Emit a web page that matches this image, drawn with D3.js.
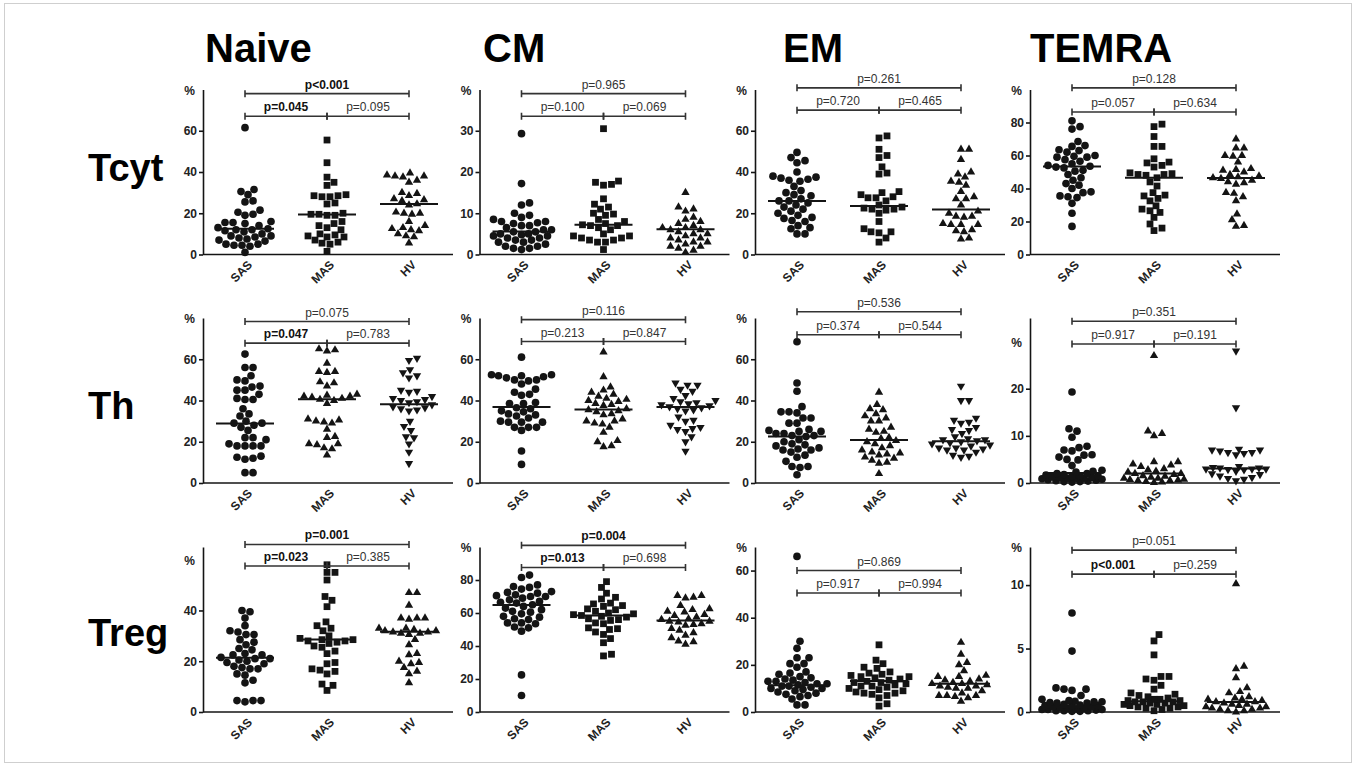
<!DOCTYPE html>
<html>
<head>
<meta charset="utf-8">
<script src="https://cdn.jsdelivr.net/npm/d3@7"></script>
<style>
body { margin: 0; background: #fff; }
svg { display: block; font-family: "Liberation Sans", Arial, sans-serif; }
</style>
</head>
<body>
<svg id="fig" width="1357" height="769"></svg>
<script>
const groups = ["SAS", "MAS", "HV"];
const columns = ["Naive", "CM", "EM", "TEMRA"];
const rows = ["Tcyt", "Th", "Treg"];

// each panel: [SAS, MAS, HV] values in %
const tcytNaive = [
  [61.5,31.5,30.5,29,26,25.5,21.5,20.5,19.5,19,16,15.5,15.5,15,14,13,12.5,12,12,11.5,11,10,9,9,8.5,8,7.5,7,6.5,5,5,4.5,4.5,4,1],
  [55.5,44.5,37.5,35,33.5,29,28.5,28.5,28,28,25,24.5,20,19.5,19.5,19,19,16,15,14,13,12,10,9.5,9,8.5,8.5,7,6,5.5,5,1.5],
  [39.5,38.5,38,38,37.5,36,35,30,29.5,28.5,27,26.5,26,24.5,24,20.5,20,20,19.5,16,14,13,12.5,12,11.5,10,9,8.5,5.5]
];
const tcytCM = [
  [29.3,17.2,12.5,12,10,9.5,9,8.5,8,8,7.7,7.5,7,7,6.5,6,6,5.5,5.5,5,5,4.8,4.5,4.5,4,4,3.5,3.5,3,3,2.5,2,2,1.5,1.5,1.2],
  [30.5,17.8,17.5,17,16.8,13.5,12.2,11.5,11,10,9.8,9.5,8.5,8,7.5,7.2,7,7,6.5,6,5,4.5,4.5,4,4,3.5,3.5,3,3,1.2],
  [15,11.5,11,10.5,9,8.5,8,7.5,7,6.5,6.5,6,6,5.5,5,5,4.5,4,4,3.5,3,3,2.5,2,2,1.5,1,0.5]
];
const tcytEM = [
  [49.5,47,45.5,44.5,40,38,37.5,37,36.5,36,35.5,33,31,30,29,28.5,27,26,26,25,24,23,22,21,20,19,18,17.5,16.5,16,14,13,12.5,10,10],
  [57.5,56.5,51,48,47,42.5,39.5,39,30.5,30,29,28,27.5,27.5,26,24,23,22.5,22,22,21.5,20,16,12.5,11,11,10.5,8,6],
  [51,51,46,40,39,37.5,35.5,35,33.5,30.5,28,27,27,24,21,20,18.5,18.5,18,15,14.5,14.5,14.5,12,11.5,11,8,7.5]
];
const tcytTEMRA = [
  [81,77.5,76,68.5,66,65.5,63.5,63,62,60,59.5,59,59,57.5,56.5,55,54,53.5,53,52.5,51,50.5,48.5,46.5,45,43,42,40,38,37.5,35.5,35,34.5,31,25,17],
  [79,77.5,71.5,65.5,65.5,58,56,55.5,54,53,49.5,49,48.5,48.5,48,46.5,44,41.5,37.5,36,35.5,34,32.5,29.5,27.5,26.5,25.5,22.5,18.5,16,14.5],
  [70,64.5,64.5,60,60,59.5,56,52,51.5,51,50,48.5,47.5,47,46.5,46,45,44,43.5,42.5,37.5,37,35,32.5,24.5,21,17.5,17]
];
const thNaive = [
  [62.5,56,56,52,50,49.5,47,46.5,45,45,43,41,40.5,40.5,36,33.5,32.5,30,29,29,28,27,25.5,22,22,21,19,18,18,18,18,13,12.5,12,11.5,5,5],
  [65,64.5,64,58,54,54,53.5,49,48.5,47,43,42.5,42,42,41.5,41,40.5,40,38.5,31,30.5,30,29.5,29,26,22.5,22,19,19,18.5,17,16.5,13.5],
  [60.5,59.5,55,53.5,52,51,45,44.5,44,42,41,40.5,40,39.5,39,38,37,36.5,36,35.5,35,30,27.5,25.5,22.5,22,19,15,9.5]
];
const thCM = [
  [61,52.5,52.5,52,52,51.5,51,50,50,49.5,48,45.5,44,43,42.5,39,38.5,38.5,36.5,36,35,34.5,33.5,33,32.5,31.5,30,29.5,29.5,29.5,27,27,27,25.5,15.5,9],
  [63.5,51.5,46.5,45,44,43,42,41,40.5,40,39.5,38.5,38,37.5,36,35.5,35,34.5,33.5,33,31,30,30,29,28.5,27,24.5,20.5,20,18,17.5],
  [48.5,47.5,47.5,45.5,44.5,42.5,41,40,39.5,39,38.5,38,37.5,37,36.5,36,35.5,35,32,30.5,30,28,27,26.5,26,25,22.5,20,15.5]
];
const thEM = [
  [68.5,48.5,44.5,37,34.5,34.5,34,31.5,31.5,29,29,26,25.5,25,25,24,24,23,23,22.5,21,20,19,18.5,18,17,16.5,16,16,15,13.5,12.5,10.5,8,8,7.5,4],
  [44,38,36,35.5,33.5,32.5,31.5,30,30,27,26,25,24.5,22,21.5,20.5,20,19,18,17,16,15,14.5,14,13.5,12.5,12,11,10,9.5,4.5],
  [47,40,40,31.5,30.5,29.5,29,27,26,25.5,24,22.5,21.5,21,21,20.5,20,19.5,19,18.5,18,17,17,16.5,16,16,15,13.5,13,12.5]
];
const thTEMRA = [
  [19.3,11.5,11,9.7,7.8,7.5,7,6.8,6,5.9,5.5,5,4.9,3.7,2.7,2.5,2.3,2,2,1.8,1.7,1.5,1.5,1.4,1.3,1.2,1.1,1,1,1,0.9,0.8,0.7,0.6,0.5,0.4,0.3,0.3,0.2],
  [27,11,10.5,10,4.5,4.5,4,3.8,3.5,3,2.8,2.5,2.3,2,2,1.8,1.5,1.4,1.2,1,1,0.8,0.7,0.6,0.5,0.5,0.3,0.2,0.1],
  [28,16,7.2,7,7,6.8,6.5,6.5,6.3,6,3.5,3.3,3.2,3.2,3,3,3,2.9,2.8,2.5,2,1.8,1.5,1.2,1,0.8,0.5]
];
const tregNaive = [
  [40,39.5,37,34,32,31.5,30.5,30.5,28.5,27.5,26.5,25,24.5,23,22.5,22.5,21.5,21,21,20.5,20,19.5,19,18,17.5,17,17,15,14.5,12.5,11.5,4.5,4.5,4.5,4],
  [58,55,55,52,45.5,44,41.5,35.5,34,33,32,30,29,28.5,28.5,28,28,27.5,27,26,25.5,24,23,19.5,19,17,16.5,16,15,11,10.5,8.5],
  [47,47,42,37,37,37,36.5,33,33,32.5,32,32,31.5,31.5,31,31,30.5,28.5,26.5,23,22.5,20,19.5,19,17.5,16,15,11.5]
];
const tregCM = [
  [83,81.5,77,76,75.5,74.5,73,72.5,72,71,70.5,70,70,69,68,67,66.5,66,65,64,63,62,61,60.5,59.5,58,57.5,56.5,56,54,54,53.5,51.5,51,49,22.5,10],
  [79,75.5,72,69.5,68.5,66,65.5,64.5,64,62.5,62,61,60,59.5,59,58.5,58,57.5,56.5,56,55.5,54,53.5,51,50.5,50,48.5,47,44.5,42,35,34],
  [70.5,70.5,69.5,69,64.5,62.5,62,61,60.5,59,58.5,57.5,56.5,56,55,55,54.5,53.5,53,52.5,50.5,49.5,48,46.5,45,43,42.5,41]
];
const tregEM = [
  [66,30,27,23,23,20.5,20.5,19,17,16.5,16,15,14.5,14,13.5,13,13,12.5,12,12,11.5,11,11,10.5,10,10,9.5,9,8.5,8,7.5,7,6.5,5.5,3,3],
  [28.5,22,20.5,19,18.5,17,16.5,16,15.5,15,15,14.5,14,13.5,13,12.5,12.5,12,11.5,11,11,10.5,10,9.5,9,8.5,8,8,7.5,7,6,3.5,2.5],
  [29.5,24.5,21,20,17.5,15.5,15,15,14,13.5,13,12.5,12,12,11.5,11,11,10.5,10,10,9,8,7,7,7,6.5,6,4.5]
];
const tregTEMRA = [
  [7.8,4.8,1.9,1.8,1.8,1.7,1.3,1.0,0.9,0.85,0.8,0.8,0.75,0.7,0.7,0.6,0.55,0.5,0.5,0.45,0.4,0.4,0.35,0.3,0.3,0.25,0.2,0.2,0.2,0.15,0.1,0.1,0.1,0.05,0.05],
  [6.1,5.6,4.5,2.8,2.8,2.6,2.5,2.1,1.8,1.5,1.4,1.3,1.2,1.1,1.0,1.0,0.9,0.9,0.8,0.8,0.8,0.7,0.7,0.6,0.6,0.5,0.5,0.4,0.4,0.3,0.3,0.2,0.1],
  [10.1,3.6,3.4,2.7,1.9,1.6,1.5,1.2,1.1,1.0,1.0,0.9,0.8,0.8,0.7,0.6,0.6,0.5,0.4,0.4,0.3,0.3,0.2,0.2,0.1,0.1,0.0]
];

const panelData = [
  [tcytNaive, tcytCM, tcytEM, tcytTEMRA],
  [thNaive, thCM, thEM, thTEMRA],
  [tregNaive, tregCM, tregEM, tregTEMRA]
];

// horizontal line per group
const medians = [
  [[12.5,19.4,24.5],[5.6,7.2,6.1],[26,23.5,21.8],[53.3,46.5,46.3]],
  [[28.9,40.6,38.2],[36.9,35.6,36.9],[22.6,20.9,20.2],[2.1,2.0,3.1]],
  [[21.4,28.6,31.6],[64.9,58.5,55.5],[11.3,13.1,12],[0.39,0.84,0.79]]
];

const yMax = [[80,40,80,100],[80,80,80,35],[65,100,70,13]];
const yTicks = [
  [[0,20,40,60],[0,10,20,30],[0,20,40,60],[0,20,40,60,80]],
  [[0,20,40,60],[0,20,40,60],[0,20,40,60],[0,10,20]],
  [[0,20,40],[0,20,40,60,80],[0,20,40,60],[0,5,10]]
];
// [SAS vs HV, SAS vs MAS, MAS vs HV]
const pLabels = [
  [["p<0.001","p=0.045","p=0.095"],["p=0.965","p=0.100","p=0.069"],["p=0.261","p=0.720","p=0.465"],["p=0.128","p=0.057","p=0.634"]],
  [["p=0.075","p=0.047","p=0.783"],["p=0.116","p=0.213","p=0.847"],["p=0.536","p=0.374","p=0.544"],["p=0.351","p=0.917","p=0.191"]],
  [["p=0.001","p=0.023","p=0.385"],["p=0.004","p=0.013","p=0.698"],["p=0.869","p=0.917","p=0.994"],["p=0.051","p<0.001","p=0.259"]]
];
const pBold = [
  [[1,1,0],[0,0,0],[0,0,0],[0,0,0]],
  [[0,1,0],[0,0,0],[0,0,0],[0,0,0]],
  [[1,1,0],[1,1,0],[0,0,0],[0,1,0]]
];
// bracket heights in data units: [lower pair, upper]
const bracketLevels = [
  [[67,78],[33.5,39],[70,80.8],[86.4,101]],
  [[67.8,78.3],[68.6,79.2],[71.9,83],[29.5,34.3]],
  [[57.5,66],[87.6,101],[50.5,60],[10.86,12.75]]
];
const percentAt = [[80,40,80,100],[80,80,80,30],[60,100,70,13]];
const rowShapes = [
  ["circle","square","triangle"],
  ["circle","triangle","triangleDown"],
  ["circle","square","triangle"]
];

// ---- layout
const colAxisX = [203, 479.5, 755, 1030];
const rowZeroY = [254.5, 483, 712];
const plotH = 165;
const axisLen = 250;
const ink = "#141414";

const svg = d3.select("#fig");

svg.append("rect")
  .attr("x", 4.5).attr("y", 3.5)
  .attr("width", 1347).attr("height", 759)
  .attr("fill", "none").attr("stroke", "#cfcfcf");

// column headers
const headerX = [205, 483, 783, 1030];
columns.forEach((c, i) => {
  svg.append("text")
    .attr("x", headerX[i]).attr("y", 62)
    .attr("font-size", 40).attr("font-weight", "bold")
    .attr("fill", "#000")
    .text(c);
});

// row labels
const rowLabelY = [181, 419, 646];
rows.forEach((r, i) => {
  svg.append("text")
    .attr("x", 88).attr("y", rowLabelY[i])
    .attr("font-size", 38).attr("font-weight", "bold")
    .attr("fill", "#000")
    .text(r);
});

function symbolPath(shape) {
  if (shape === "circle") return d3.symbol(d3.symbolCircle, 46)();
  if (shape === "square") return d3.symbol(d3.symbolSquare, 46)();
  return d3.symbol(d3.symbolTriangle, 30)();
}

// beeswarm: put each point as near the centre as it fits
function swarm(vals, y, cx, diam, maxOff) {
  const placed = [];
  const pts = vals.map(v => ({ v: v, y: y(v) })).sort((a, b) => b.y - a.y);
  pts.forEach(p => {
    let best = cx, bestD = -1;
    for (let k = 0; k <= maxOff * 2; k++) {
      const off = (k % 2 ? 1 : -1) * Math.ceil(k / 2);
      const x = cx + off;
      let minD = Infinity;
      placed.forEach(q => {
        const d = Math.hypot(q.x - x, q.y - p.y);
        if (d < minD) minD = d;
      });
      if (minD >= diam) { best = x; bestD = minD; break; }
      if (minD > bestD) { bestD = minD; best = x; }
    }
    p.x = best;
    placed.push(p);
  });
  return placed;
}

rows.forEach((row, r) => {
  columns.forEach((col, c) => {
    const ax = colAxisX[c];
    const y0 = rowZeroY[r];
    const g = svg.append("g");

    const y = d3.scaleLinear().domain([0, yMax[r][c]]).range([y0, y0 - plotH]);
    const x = d3.scalePoint().domain(groups).range([ax + 42, ax + 206]);

    // y axis
    const yAxis = d3.axisLeft(y).tickValues(yTicks[r][c]).tickSize(4).tickPadding(2).tickSizeOuter(0);
    const ya = g.append("g").attr("transform", "translate(" + ax + ",0)").call(yAxis);
    ya.select(".domain").attr("stroke", ink).attr("stroke-width", 1.6);
    ya.selectAll(".tick line").attr("stroke", ink).attr("stroke-width", 1.6);
    ya.selectAll(".tick text")
      .attr("font-size", 12).attr("font-weight", "bold")
      .attr("font-family", "Liberation Sans, Arial, sans-serif")
      .attr("fill", "#222");

    // x axis line
    g.append("line")
      .attr("x1", ax).attr("x2", ax + axisLen)
      .attr("y1", y0).attr("y2", y0)
      .attr("stroke", ink).attr("stroke-width", 1.6);

    // category labels
    groups.forEach(gr => {
      g.append("text")
        .attr("transform", "translate(" + (x(gr) + 8) + "," + (y0 + 11) + ") rotate(-45)")
        .attr("text-anchor", "end")
        .attr("font-size", 12).attr("font-weight", "bold")
        .attr("fill", "#222")
        .text(gr);
    });

    // % label
    g.append("text")
      .attr("x", ax - 8).attr("y", y(percentAt[r][c]) + 5)
      .attr("text-anchor", "end")
      .attr("font-size", 12).attr("font-weight", "bold")
      .attr("fill", "#222")
      .text("%");

    // points
    groups.forEach((gr, gi) => {
      const shape = rowShapes[r][gi];
      const pts = swarm(panelData[r][c][gi], y, x(gr), 7.6, 30);
      g.selectAll(null)
        .data(pts).enter()
        .append("path")
        .attr("d", symbolPath(shape))
        .attr("transform", d => "translate(" + d.x + "," + d.y + ")" + (shape === "triangleDown" ? " rotate(180)" : ""))
        .attr("fill", ink);

      // median line
      g.append("line")
        .attr("x1", x(gr) - 29).attr("x2", x(gr) + 29)
        .attr("y1", y(medians[r][c][gi])).attr("y2", y(medians[r][c][gi]))
        .attr("stroke", ink).attr("stroke-width", 2);
    });

    // brackets
    const lowY = y(bracketLevels[r][c][0]);
    const topY = y(bracketLevels[r][c][1]);
    const spans = [
      [x("SAS"), x("HV"), topY, 0],
      [x("SAS"), x("MAS"), lowY, 1],
      [x("MAS"), x("HV"), lowY, 2]
    ];
    spans.forEach(s => {
      const [x1, x2, yy, k] = s;
      const path = d3.path();
      path.moveTo(x1, yy); path.lineTo(x2, yy);
      path.moveTo(x1, yy - 3.5); path.lineTo(x1, yy + 3.5);
      path.moveTo(x2, yy - 3.5); path.lineTo(x2, yy + 3.5);
      g.append("path")
        .attr("d", path.toString())
        .attr("fill", "none")
        .attr("stroke", "#333").attr("stroke-width", 1.6);
      const bold = pBold[r][c][k] === 1;
      g.append("text")
        .attr("x", (x1 + x2) / 2).attr("y", yy - 5)
        .attr("text-anchor", "middle")
        .attr("font-size", 12)
        .attr("font-weight", bold ? "bold" : "normal")
        .attr("fill", bold ? "#111" : "#333")
        .text(pLabels[r][c][k]);
    });
  });
});
</script>
</body>
</html>
